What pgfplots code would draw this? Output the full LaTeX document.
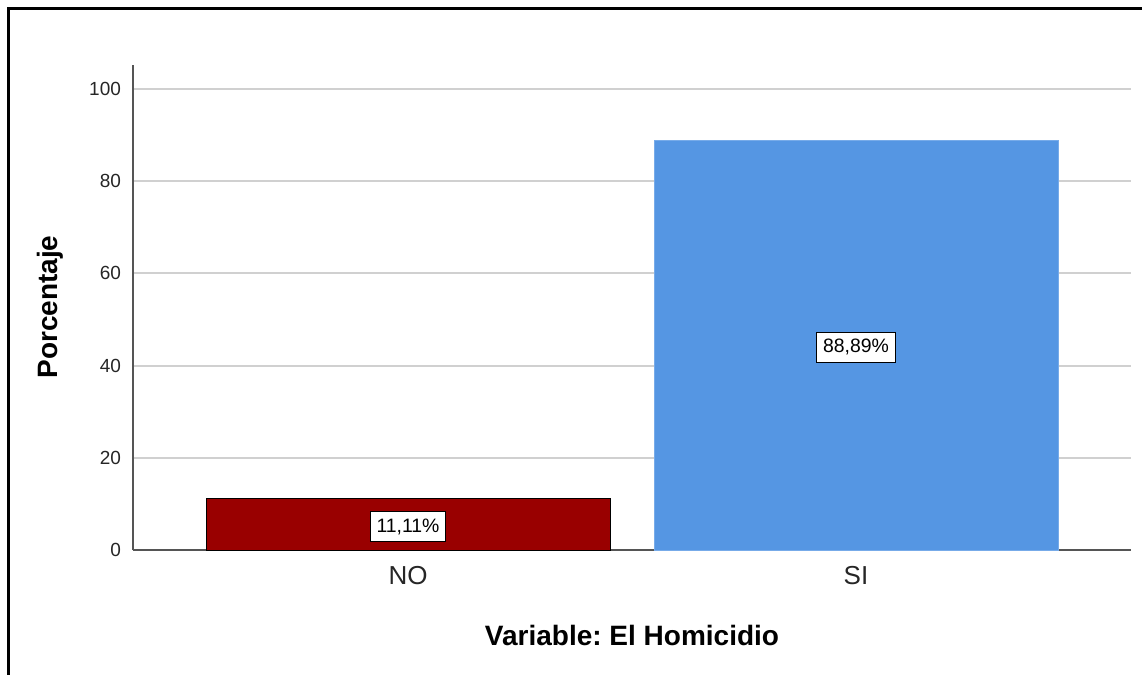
\documentclass[border=0pt]{standalone}
\usepackage{fontspec}
\setmainfont{Liberation Sans}
\usepackage{pgfplots}
\pgfplotsset{compat=1.18}
\definecolor{barno}{HTML}{990000}
\definecolor{barsi}{HTML}{5596E3}
\definecolor{gridc}{HTML}{D0D0D0}
\definecolor{axc}{HTML}{555555}
\frenchspacing
\begin{document}
\begin{tikzpicture}
\useasboundingbox (0,0) rectangle (571pt,-337.5pt);
\draw[line width=1.2pt] (4.2pt,-337.5pt) -- (4.2pt,-4.2pt) -- (571pt,-4.2pt);
\begin{axis}[
  at={(66.5pt,-275pt)}, anchor=south west,
  scale only axis, width=499pt, height=242.5pt,
  xmin=-0.614, xmax=1.614, ymin=0, ymax=105.2,
  axis x line*=bottom, axis y line*=left,
  axis line style={axc, line width=0.6pt},
  x axis line style={-}, y axis line style={-},
  xtick={0,1}, xticklabels={NO,SI},
  ytick={0,20,40,60,80,100},
  major tick length=0pt,
  ymajorgrids, grid style={gridc, line width=1pt},
  /pgf/number format/assume math mode=true,
  yticklabel style={font=\fontsize{9.5}{11}\selectfont, color=black!85, xshift=-2.5pt},
  xticklabel style={font=\fontsize{13}{15}\selectfont, color=black!85, yshift=-4.5pt},
  xlabel={Variable: El Homicidio},
  ylabel={Porcentaje},
  xlabel style={at={(axis description cs:0.5,-0.177)}, anchor=center, font=\fontsize{14}{16}\selectfont\bfseries},
  ylabel style={at={(axis description cs:-0.0832,0.501)}, anchor=center, rotate=0, font=\fontsize{14}{16}\selectfont\bfseries},
]
\addplot[ybar, bar width=0.902, fill=barno, draw=black, line width=0.5pt] coordinates {(0,11.11)};
\addplot[ybar, bar width=0.902, fill=barsi, draw=barsi!80!white, line width=0.3pt] coordinates {(1,88.89)};
\addplot[draw=none, mark=none, nodes near coords, point meta=explicit symbolic,
  every node near coord/.append style={anchor=center, fill=white, draw=black, line width=0.5pt,
    inner xsep=3.2pt, inner ysep=3.5pt, font=\fontsize{9.7}{11}\selectfont}]
  table[meta=lab] {
x y lab
0 5.0 {11,11\%}
1 44.0 {88,89\%}
};
\end{axis}
\end{tikzpicture}
\end{document}
